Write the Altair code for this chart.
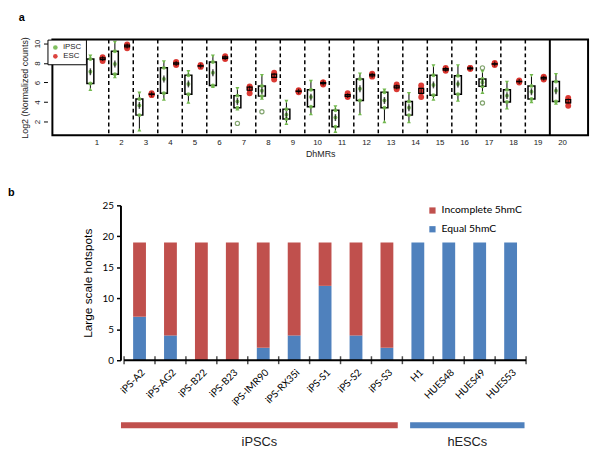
import json
import altair as alt
import pandas as pd

# ---------------- Panel a data ----------------
dhmr = list(range(1, 21))
ipsc_low = [5.3, 6.6, 1.15, 4.3, 4.0, 5.6, 3.3, 4.4, 1.8, 2.8, 1.0, 2.8, 2.0, 2.0, 4.3, 4.2, 5.0, 3.4, 4.05, 3.9]
ipsc_q1 = [5.9, 6.85, 2.65, 4.9, 4.8, 5.7, 3.4, 4.6, 2.25, 3.5, 1.45, 4.15, 3.4, 2.65, 4.7, 4.8, 5.6, 4.0, 4.3, 4.05]
ipsc_med = [7.1, 7.9, 3.65, 6.35, 5.85, 7.0, 4.05, 5.15, 2.7, 4.5, 2.4, 5.35, 4.15, 3.4, 5.75, 5.85, 6.0, 4.65, 5.05, 5.15]
ipsc_q3 = [8.4, 9.2, 4.3, 7.5, 6.75, 8.1, 4.65, 5.65, 3.25, 5.25, 3.15, 6.35, 5.0, 4.05, 6.75, 6.7, 6.35, 5.25, 5.65, 6.1]
ipsc_high = [8.7, 10.1, 4.9, 8.1, 7.1, 8.7, 5.35, 6.7, 4.05, 6.1, 3.5, 6.85, 5.2, 4.85, 7.7, 7.7, 7.1, 6.0, 6.7, 6.8]
outlier_dhmr = [7, 8, 17, 17]
outlier_val = [1.8, 3.0, 7.5, 3.9]
esc_vals = [
    [8.2, 8.4, 8.5, 8.6], [9.5, 9.7, 9.8, 9.9], [4.7, 4.8, 4.8, 4.9], [7.8, 7.9, 8.0, 8.1],
    [7.6, 7.7, 7.7, 7.8], [8.4, 8.5, 8.6, 8.7], [4.9, 5.3, 5.5, 5.6], [6.3, 6.6, 6.8, 7.0],
    [5.0, 5.1, 5.1, 5.2], [5.8, 5.9, 6.0, 6.0], [4.5, 4.6, 4.7, 4.9], [6.6, 6.7, 6.8, 6.9],
    [5.3, 5.5, 5.6, 5.8], [4.5, 5.0, 5.3, 5.7], [7.2, 7.3, 7.4, 7.5], [7.4, 7.4, 7.5, 7.5],
    [7.8, 7.9, 7.9, 8.0], [6.0, 6.1, 6.1, 6.2], [6.3, 6.4, 6.5, 6.6], [3.6, 4.0, 4.2, 4.4],
]
groups_a = ["iPSC", "ESC"]

# ---------------- Panel b data ----------------
samples = ["iPS-A2", "iPS-AG2", "iPS-B22", "iPS-B23", "iPS-IMR90", "iPS-RX35i", "iPS-S1",
           "iPS-S2", "iPS-S3", "H1", "HUES48", "HUES49", "HUES53"]
equal_5hmc = [7, 4, 0, 0, 2, 4, 12, 4, 2, 19, 19, 19, 19]
incomplete_5hmc = [12, 15, 19, 19, 17, 15, 7, 15, 17, 0, 0, 0, 0]
series_b = ["Incomplete 5hmC", "Equal 5hmC"]
group_names = ["iPSCs", "hESCs"]
group_sizes = [9, 4]

GREEN = "#72b84e"
RED = "#d8302a"
BRED = "#C0504D"
BBLUE = "#4F81BD"
FA = "Liberation Sans"
FB = "Lato"

# ---------------- Panel a ----------------
XA_DOM = [-0.8, 21.06]
YA_DOM = [0.58, 10.4]
box_df = pd.DataFrame(dict(dhmr=dhmr, low=ipsc_low, q1=ipsc_q1, med=ipsc_med, q3=ipsc_q3, high=ipsc_high))
green_rows = []
for d, a, m, b in zip(dhmr, ipsc_q1, ipsc_med, ipsc_q3):
    for v in (a, m, b):
        green_rows.append(dict(dhmr=d, value=v, group="iPSC"))
green_df = pd.DataFrame(green_rows)
esc_df = pd.DataFrame([dict(dhmr=d, value=v, group="ESC") for d, vals in zip(dhmr, esc_vals) for v in vals])
out_df = pd.DataFrame(dict(dhmr=outlier_dhmr, value=outlier_val))
sep_df = pd.DataFrame(dict(xp=[d + 0.5 for d in dhmr[:-1]],
                           kind=["dash"] * (len(dhmr) - 2) + ["solid"]))
frame_df = pd.DataFrame(dict(xp=[XA_DOM[0]], x1=[XA_DOM[1]], y0=[YA_DOM[0]], y1=[YA_DOM[1]]))

xa = alt.Scale(domain=XA_DOM, nice=False, zero=False)
ya = alt.Scale(domain=YA_DOM, nice=False, zero=False)
x_axis_a = alt.Axis(values=dhmr, ticks=False, domain=False, grid=False, labelFontSize=8,
                    labelFont=FA, labelColor="#222", labelPadding=3, title="DhMRs",
                    titleFontSize=9, titleFont=FA, titleFontWeight="normal", titlePadding=3,
                    titleColor="#222", labelAngle=0)
y_axis_a = alt.Axis(values=[2, 4, 6, 8, 10], grid=False, domain=False, tickSize=4, tickColor="black",
                    labelAngle=-90, labelAlign="center", labelBaseline="bottom", labelFontSize=8,
                    labelFont=FA, labelColor="#222", labelPadding=2, title="Log2 (Normalized counts)",
                    titleFontSize=9, titleFont=FA, titleFontWeight="normal", titleColor="#222",
                    titlePadding=4)
color_a = alt.Color("group:N", scale=alt.Scale(domain=groups_a, range=[GREEN, RED]),
                    legend=alt.Legend(orient="top-left", offset=0, title=None, strokeColor="black",
                                      fillColor="white", padding=4, labelFontSize=8, labelFont=FA,
                                      symbolSize=22, symbolType="circle", rowPadding=1,
                                      labelColor="#222", symbolStrokeWidth=0))

XP = alt.X("xp:Q", scale=xa, axis=x_axis_a)


def YA(f):
    return alt.Y(f, scale=ya, axis=y_axis_a)


seps = alt.Chart(sep_df).transform_filter("datum.kind == 'dash'").mark_rule(
    color="black", strokeDash=[4, 3], strokeWidth=1.5).encode(x=XP)
sep_solid = alt.Chart(sep_df).transform_filter("datum.kind == 'solid'").mark_rule(
    color="black", strokeWidth=2).encode(x=XP)
frame = alt.Chart(frame_df).mark_rect(fillOpacity=0, stroke="black", strokeWidth=2).encode(
    x=XP, x2="x1:Q", y=YA("y0:Q"), y2="y1:Q")

bx = alt.Chart(box_df).transform_calculate(xp="datum.dhmr - 0.25")
whisk = bx.mark_rule(color="black", strokeWidth=1).encode(x=XP, y=YA("low:Q"), y2="high:Q")
box = bx.mark_bar(size=7, fill="white", stroke="black", strokeWidth=1.5).encode(x=XP, y=YA("q1:Q"), y2="q3:Q")
gpts = alt.Chart(green_df).transform_calculate(xp="datum.dhmr - 0.25").mark_circle(
    size=16, opacity=0.9).encode(x=XP, y=YA("value:Q"), color=color_a)
med = bx.mark_tick(color="black", thickness=1.5, size=7).encode(x=XP, y=YA("med:Q"))
tri_top = bx.mark_point(shape="triangle-down", filled=True, color=GREEN, size=16, opacity=1).encode(
    x=XP, y=YA("high:Q"))
tri_bot = bx.mark_point(shape="triangle-up", filled=True, color=GREEN, size=16, opacity=1).encode(
    x=XP, y=YA("low:Q"))
outl = alt.Chart(out_df).transform_calculate(xp="datum.dhmr - 0.25").mark_point(
    shape="circle", filled=False, color="#4f7f33", size=18, strokeWidth=1.2).encode(x=XP, y=YA("value:Q"))

esc = alt.Chart(esc_df).transform_calculate(xp="datum.dhmr + 0.25")
rpts = esc.mark_circle(size=36, opacity=0.95).encode(x=XP, y=YA("value:Q"), color=color_a)
esc_agg = esc.transform_aggregate(q1="q1(value)", q3="q3(value)", md="median(value)", groupby=["xp"])
esc_box = esc_agg.mark_bar(size=5, fillOpacity=0, stroke="black", strokeWidth=1.2).encode(
    x=XP, y=YA("q1:Q"), y2="q3:Q")
esc_med = esc_agg.mark_tick(color="black", thickness=1.2, size=5).encode(x=XP, y=YA("md:Q"))

panel_a = alt.layer(seps, sep_solid, whisk, box, gpts, med, tri_top, tri_bot, outl, rpts,
                    esc_box, esc_med, frame).properties(
    width=553, height=97,
    title=alt.TitleParams("a", anchor="start", frame="bounds", fontSize=11, fontWeight="bold",
                          font=FA, offset=14, dx=-2),
)

# ---------------- Panel b ----------------
rows = []
for i, (s, e, inc) in enumerate(zip(samples, equal_5hmc, incomplete_5hmc)):
    rows.append(dict(xb=i, sample=s, series="Equal 5hmC", count=e, so=0))
    rows.append(dict(xb=i, sample=s, series="Incomplete 5hmC", count=inc, so=1))
bars_df = pd.DataFrame(rows)

n = len(samples)
WB = 553            # full panel width (same as panel a)
PLOT_L, PLOT_R = 74, 489   # pixel extent of the category axis inside the panel
unit = (PLOT_R - PLOT_L) / n
xb_dom = [-0.5 - PLOT_L / unit, n - 0.5 + (WB - PLOT_R) / unit]
xb = alt.Scale(domain=xb_dom, nice=False, zero=False)
yb = alt.Scale(domain=[0, 25], nice=False)
label_expr = json.dumps(samples) + "[datum.value]"

x_axis_b = alt.Axis(values=list(range(n)), labelExpr=label_expr, labelAngle=-45, labelAlign="right",
                    labelBaseline="top", ticks=False, domain=False, grid=False, title=None,
                    labelFontSize=10, labelFont=FB, labelColor="black", labelPadding=7,
                    labelOverlap=False, labelBound=False)
y_axis_b = alt.Axis(values=[0, 5, 10, 15, 20, 25], grid=False, domainColor="black", domainWidth=2,
                    tickColor="black", tickSize=4, tickWidth=1.5, labelFontSize=10, labelFont=FB,
                    labelColor="black", labelPadding=3, title="Large scale hotspots",
                    titleFontSize=12, titleFont=FA, titleFontWeight="normal", titleColor="black",
                    titlePadding=8, offset=-PLOT_L)
XB = alt.X("xb:Q", scale=xb, axis=x_axis_b)


def YB(f):
    return alt.Y(f, scale=yb, axis=y_axis_b)


bars = alt.Chart(bars_df).mark_bar(size=13).encode(
    x=XB,
    y=alt.Y("count:Q", stack="zero", scale=yb, axis=y_axis_b),
    color=alt.Color("series:N", scale=alt.Scale(domain=series_b, range=[BRED, BBLUE]),
                    legend=alt.Legend(orient="none", legendX=PLOT_L + 311, legendY=0, title=None,
                                      symbolType="square", symbolSize=40, labelFontSize=10.5,
                                      labelFont=FB, labelColor="black", rowPadding=8,
                                      symbolStrokeWidth=0)),
    order=alt.Order("so:Q"),
)

axis_df = pd.DataFrame(dict(xb=[-0.5], x1=[n - 0.5], y0=[0]))
xline = alt.Chart(axis_df).mark_rule(color="black", strokeWidth=2).encode(x=XB, x2="x1:Q", y=YB("y0:Q"))
btick_df = pd.DataFrame(dict(xb=[i - 0.5 for i in range(n + 1)], y0=[0] * (n + 1)))
bticks = alt.Chart(btick_df).mark_tick(color="black", orient="vertical", size=8, thickness=1.5).encode(
    x=XB, y=YB("y0:Q"))

gstart, gend, gmid = [], [], []
c = 0
for k, sz in enumerate(group_sizes):
    s = c - 0.6 + (0.35 if k > 0 else 0)
    e = c + sz - 0.65 + (0.1 if k > 0 else 0)
    gstart.append(s); gend.append(e); gmid.append((s + e) / 2)
    c += sz
grp_df = pd.DataFrame(dict(name=group_names, xb=gstart, x1=gend, mid=gmid))
gbar = alt.Chart(grp_df).mark_rule(strokeWidth=6).encode(
    x=XB, x2="x1:Q", y=alt.value(223),
    color=alt.Color("name:N", scale=alt.Scale(domain=group_names, range=[BRED, BBLUE]), legend=None))
gtext = alt.Chart(grp_df).transform_calculate(xb="datum.mid").mark_text(
    fontSize=13, font=FA, color="#222", baseline="middle").encode(
    x=XB, y=alt.value(240), text="name:N")

panel_b = alt.layer(bars, xline, bticks, gbar, gtext).resolve_scale(color="independent").properties(
    width=WB, height=157,
    title=alt.TitleParams("b", anchor="start", frame="bounds", fontSize=11, fontWeight="bold", font=FA,
                          offset=2, dx=-40))

chart = alt.vconcat(panel_a, panel_b, spacing=30).properties(
    padding={"left": 0, "top": 0, "right": 0, "bottom": 0}, background="white"
).configure_view(stroke="transparent", strokeWidth=0)

chart.save("out.html", embed_options={"renderer": "svg", "actions": False})
